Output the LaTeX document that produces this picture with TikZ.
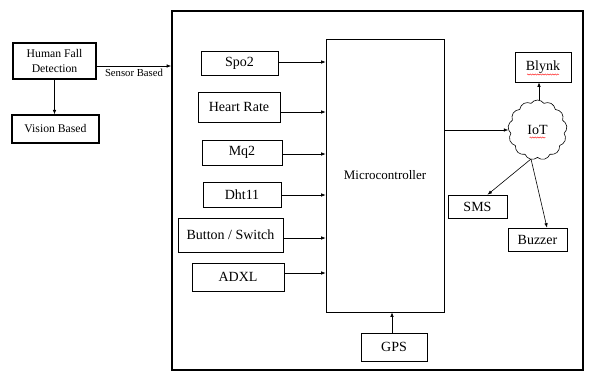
\documentclass[tikz,border=0pt]{standalone}
\usepackage{fontspec}
\setmainfont{Liberation Serif}
\usetikzlibrary{arrows.meta,shapes.symbols,calc,decorations.pathmorphing}
\begin{document}
\begin{tikzpicture}[x=1pt,y=-1pt,
  box/.style={draw,line width=0.6pt,rectangle,inner sep=0pt,font=\fontsize{14}{16}\selectfont},
  thickbox/.style={draw,line width=1.3pt,rectangle,inner sep=0pt,align=center,font=\fontsize{11.7}{14.5}\selectfont},
  arr/.style={line width=0.6pt,-{Latex[length=4.5pt,width=3.5pt]}},
  wavy/.style={red,line width=0.4pt,decorate,decoration={snake,amplitude=0.6pt,segment length=2.5pt}}]
\useasboundingbox (0,0) rectangle (594,381);
\fill[white] (0,0) rectangle (594,381);
% outer frame
\node[draw,line width=1.6pt,minimum width=411pt,minimum height=359pt,inner sep=0pt] (big) at (377.5,190.5) {};
% left part
\node[thickbox,minimum width=83pt,minimum height=36pt] (hfd) at (54.5,61) {Human Fall\\Detection};
\node[box,line width=1.2pt,minimum width=87pt,minimum height=28pt,font=\fontsize{11.7}{13.5}\selectfont] (vis) at (55.5,129) {Vision Based};
\draw[arr] (hfd.south) -- (hfd.south |- vis.north);
\coordinate (sb) at ($(hfd.east)+(0,5)$);
\coordinate (sbe) at (sb -| big.west);
\draw[arr] (sb) -- (sbe);
\node[font=\fontsize{10.7}{12}\selectfont,inner sep=0pt] (sbl) at (134,73) {Sensor Based};
% sensors
\node[box,minimum width=77pt,minimum height=24pt] (spo2) at (239.5,63) {Spo2};
\node[box,minimum width=82pt,minimum height=30pt] (hr) at (239,107) {Heart Rate};
\node[box,minimum width=80pt,minimum height=25pt] (mq2) at (242,152.5) {Mq2};
\node[box,minimum width=78pt,minimum height=25pt] (dht) at (242,194.5) {Dht11};
\node[box,minimum width=105pt,minimum height=34pt] (btn) at (230.5,235) {Button / Switch};
\node[box,minimum width=92pt,minimum height=28pt] (adxl) at (238,277) {ADXL};
\node[box,minimum width=118pt,minimum height=273pt,font=\fontsize{13}{15}\selectfont] (mc) at (385,175.5) {Microcontroller};
\node[box,minimum width=66pt,minimum height=28pt] (gps) at (394,347) {GPS};
\foreach \n/\dy in {spo2/-1,hr/5,mq2/1.5,dht/0.5,btn/3,adxl/-4}{
  \coordinate (s-\n) at ($(\n.east)+(0,\dy)$);
  \coordinate (e-\n) at (s-\n -| mc.west);
  \draw[arr] (s-\n) -- (e-\n);
}
\coordinate (gs) at ($(gps.north)+(-2,0)$);
\coordinate (ge) at (gs |- mc.south);
\draw[arr] (gs) -- (ge);
% IoT side
\node[box,minimum width=56pt,minimum height=30pt] (blynk) at (543,67) {Blynk};
\node[draw,line width=0.6pt,cloud,cloud puffs=13,cloud puff arc=110,aspect=1,minimum width=59pt,minimum height=60pt,inner sep=0pt,font=\fontsize{14}{16}\selectfont] (iot) at (537.5,130) {IoT};
\node[box,minimum width=59pt,minimum height=23pt] (sms) at (477.5,206.5) {SMS};
\node[box,minimum width=59pt,minimum height=23pt] (buzz) at (537.5,239.5) {Buzzer};
\draw[wavy] ($(blynk.center)+(-16,7.5)$) -- ($(blynk.center)+(16,7.5)$);
\draw[wavy] ($(iot.center)+(-8,7.5)$) -- ($(iot.center)+(8,7.5)$);
\coordinate (ms) at (mc.east |- iot.west);
\draw[arr] (ms) -- (iot.west);
\coordinate (is) at ($(iot.north)+(1.5,0)$);
\coordinate (ie) at (is |- blynk.south);
\draw[arr] (is) -- (ie);
\coordinate (ib) at (531,159);
\draw[arr] (ib) -- ($(sms.north)+(10,0)$);
\draw[arr] (ib) -- ($(buzz.north)+(9.5,0)$);
\end{tikzpicture}
\end{document}
